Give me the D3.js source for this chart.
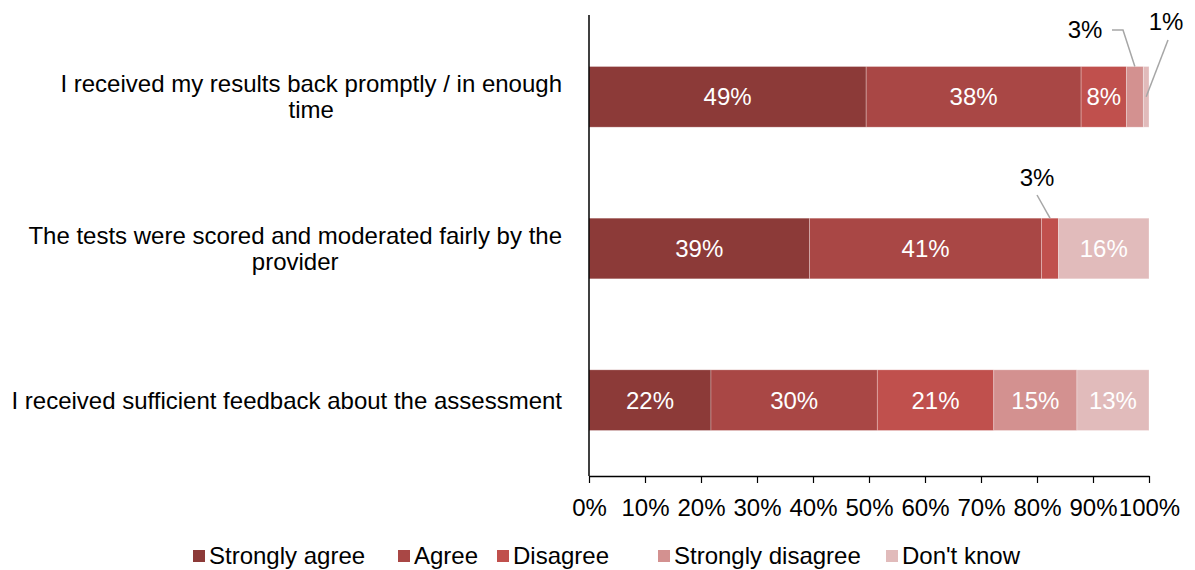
<!DOCTYPE html>
<html>
<head>
<meta charset="utf-8">
<script src="https://cdn.jsdelivr.net/npm/d3@7"></script>
<style>
  body { margin: 0; background: #fff; }
  svg { display: block; font-family: "Liberation Sans", Arial, sans-serif; }
</style>
</head>
<body>
<svg id="chart" width="1195" height="570"></svg>
<script>
// Survey statements (top to bottom) and response shares in percent
const statements = [
  ["I received my results back promptly / in enough", "time"],
  ["The tests were scored and moderated fairly by the", "provider"],
  ["I received sufficient feedback about the assessment"]
];
const responses = ["Strongly agree", "Agree", "Disagree", "Strongly disagree", "Don't know"];
const stronglyAgree    = [49, 39, 22];
const agree            = [38, 41, 30];
const disagree         = [8, 3, 21];
const stronglyDisagree = [3, 0, 15];
const dontKnow         = [1, 16, 13];
const tickLabels = ["0%", "10%", "20%", "30%", "40%", "50%", "60%", "70%", "80%", "90%", "100%"];
const colors = ["#8c3a38", "#a94745", "#c0504d", "#d39190", "#e1bbbb"];

const FONT = 24;

const seriesValues = [stronglyAgree, agree, disagree, stronglyDisagree, dontKnow];
const rows = statements.map((s, i) => {
  const r = { idx: i };
  responses.forEach((k, j) => r[k] = seriesValues[j][i]);
  return r;
});

const svg = d3.select("#chart");
const margin = { left: 589, right: 46, top: 21, bottom: 94 };
const W = 1195, H = 570;
const x = d3.scaleLinear().domain([0, 1]).range([margin.left, W - margin.right]);
const y = d3.scaleBand().domain(d3.range(statements.length))
  .range([margin.top, H - margin.bottom]).paddingInner(0.6).paddingOuter(0.3);

// 100% stacked layout
const stacked = d3.stack().keys(responses).offset(d3.stackOffsetExpand)(rows);

const layers = svg.append("g").selectAll("g").data(stacked).join("g")
  .attr("fill", (d, i) => colors[i]);

layers.selectAll("rect").data(d => d.map(p => ({ p, key: d.key })))
  .join("rect")
  .attr("x", d => x(d.p[0]))
  .attr("y", d => y(d.p.data.idx))
  .attr("width", d => Math.max(0, x(d.p[1]) - x(d.p[0])))
  .attr("height", y.bandwidth())
  .attr("stroke", "#fff")
  .attr("stroke-opacity", 0.35)
  .attr("stroke-width", 0.8);

// In-bar value labels for segments wide enough to hold them
const labelled = [];
stacked.forEach(layer => layer.forEach(p => {
  labelled.push({ key: layer.key, row: p.data.idx, v: p.data[layer.key], x0: p[0], x1: p[1] });
}));

svg.append("g").selectAll("text")
  .data(labelled.filter(d => d.v >= 5))
  .join("text")
  .attr("x", d => x((d.x0 + d.x1) / 2))
  .attr("y", d => y(d.row) + y.bandwidth() / 2)
  .attr("dy", "0.35em")
  .attr("text-anchor", "middle")
  .attr("fill", "#fff")
  .attr("font-size", FONT)
  .text(d => d.v + "%");

// Call-out labels with leader lines for narrow segments
const callouts = labelled.filter(d => d.v > 0 && d.v < 5);
const calloutPos = {
  "0|Strongly disagree": { tx: 1085, ty: 30, path: (sx, top, mid) => [[1112, 30], [1123, 30], [sx, top]] },
  "0|Don't know":        { tx: 1166, ty: 22, path: (sx, top, mid) => [[1168, 40], [sx, mid]] },
  "1|Disagree":          { tx: 1037, ty: 178, path: (sx, top, mid) => [[1037, 195], [sx, top]] }
};
const cg = svg.append("g");
callouts.forEach(d => {
  const cfg = calloutPos[d.row + "|" + d.key];
  if (!cfg) return;
  const sx = x((d.x0 + d.x1) / 2);
  const top = y(d.row);
  const mid = top + y.bandwidth() / 2;
  cg.append("path")
    .attr("d", d3.line()(cfg.path(sx, top, mid)))
    .attr("fill", "none")
    .attr("stroke", "#a6a6a6")
    .attr("stroke-width", 1.5);
  cg.append("text")
    .attr("x", cfg.tx).attr("y", cfg.ty)
    .attr("dy", "0.35em")
    .attr("text-anchor", "middle")
    .attr("fill", "#000")
    .attr("font-size", FONT)
    .text(d.v + "%");
});

// Axes
const axisY = H - margin.bottom;
svg.append("line")
  .attr("x1", x(0)).attr("x2", x(0))
  .attr("y1", margin.top - 6).attr("y2", axisY)
  .attr("stroke", "#000").attr("stroke-width", 1.5);

const xAxis = svg.append("g").attr("transform", `translate(0,${axisY})`)
  .call(d3.axisBottom(x).tickValues(d3.range(0, 1.0001, 0.1))
    .tickFormat((d, i) => tickLabels[i]).tickSize(7).tickSizeOuter(0));
xAxis.select(".domain").attr("stroke", "#000").attr("stroke-width", 1.5);
xAxis.selectAll(".tick line").attr("stroke", "#000").attr("stroke-width", 1.2);
xAxis.selectAll(".tick text")
  .attr("font-size", FONT).attr("fill", "#000")
  .attr("font-family", "'Liberation Sans', Arial, sans-serif")
  .attr("y", 32).attr("dy", "0.35em");

// Category labels: lines centred within a right-aligned block
const catG = svg.append("g");
statements.forEach((lines, i) => {
  const cy = y(i) + y.bandwidth() / 2;
  const lh = 26;
  const t = catG.append("text").attr("font-size", FONT).attr("fill", "#000");
  const spans = lines.map((ln, k) => t.append("tspan")
    .attr("y", cy + (k - (lines.length - 1) / 2) * lh)
    .attr("dy", "0.35em")
    .text(ln));
  const widths = spans.map(s => s.node().getComputedTextLength());
  const maxW = d3.max(widths);
  const right = 562;
  const centre = right - maxW / 2;
  spans.forEach(s => s.attr("x", centre).attr("text-anchor", "middle"));
});

// Legend
const legendX = [193, 398, 497, 658, 886];
const lg = svg.append("g").attr("transform", "translate(0,556)");
responses.forEach((r, i) => {
  lg.append("rect").attr("x", legendX[i]).attr("y", -6).attr("width", 12).attr("height", 12)
    .attr("fill", colors[i]);
  lg.append("text").attr("x", legendX[i] + 16).attr("y", 0).attr("dy", "0.35em")
    .attr("font-size", FONT).attr("fill", "#000").text(r);
});
</script>
</body>
</html>
